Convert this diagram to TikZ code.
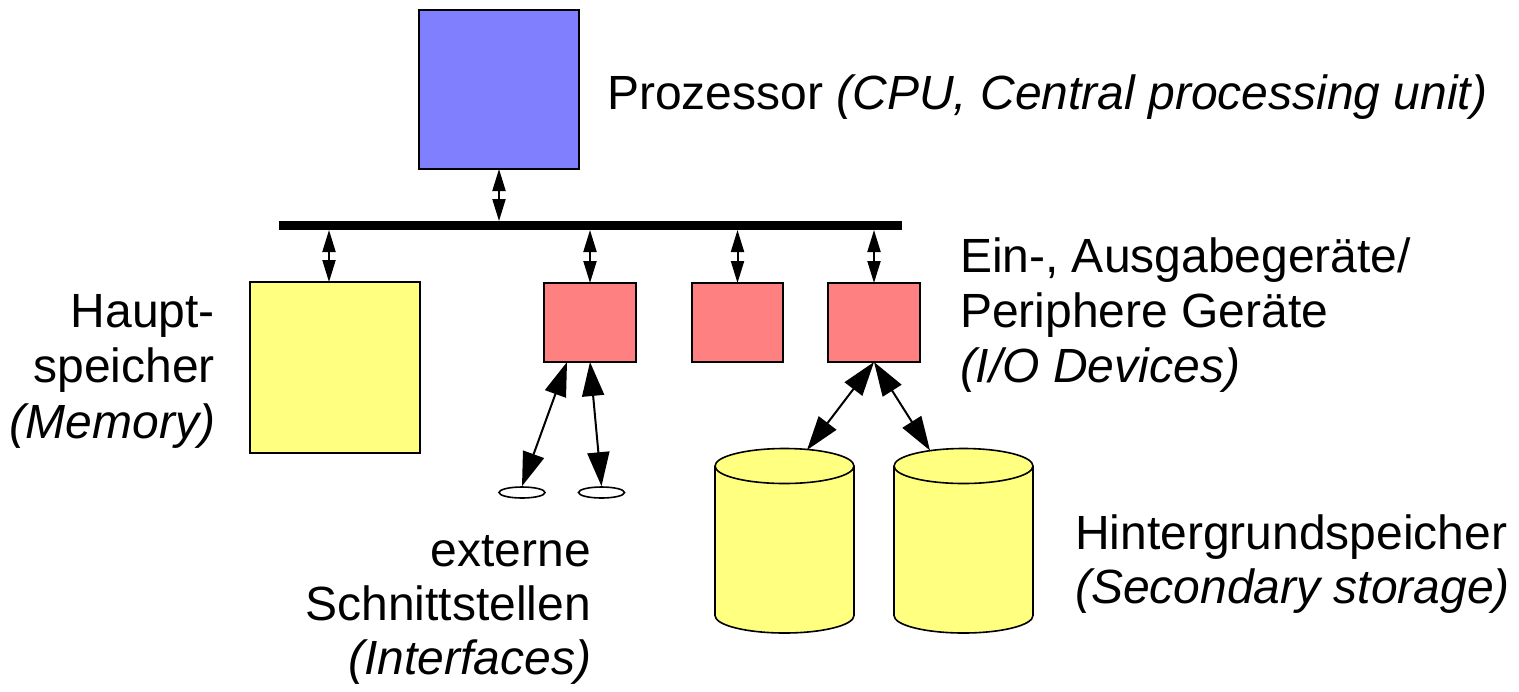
\documentclass[tikz,border=0pt]{standalone}
\usepackage{fontspec}
\setmainfont{Liberation Sans}
\usetikzlibrary{arrows.meta,shapes.geometric,calc}
\definecolor{cpublue}{HTML}{8080FF}
\definecolor{memyellow}{HTML}{FFFF80}
\definecolor{iored}{HTML}{FF8080}
\tikzset{
  box/.style={draw=black, line width=0.8pt, inner sep=0pt, outer sep=0pt, anchor=north west},
  lbl/.style={font=\fontsize{24}{27.5}\selectfont, inner sep=0pt, outer sep=0pt},
  vbi/.style={line width=1pt, {Triangle[length=11pt,width=6.5pt]}-{Triangle[length=11pt,width=6.5pt]}},
  dbi/.style={line width=1pt, {Triangle[length=17pt,width=11pt]}-{Triangle[length=17pt,width=11pt]}},
  port/.style={ellipse, draw=black, line width=0.8pt, fill=white, inner sep=0pt, minimum width=23pt, minimum height=5.5pt},
  disk/.pic={
    \fill[memyellow] (-69.5,0) -- (-69.5,149.5)
      arc[start angle=180,end angle=360,x radius=34.75pt,y radius=8.75pt]
      -- (69.5,0)
      arc[start angle=0,end angle=180,x radius=34.75pt,y radius=8.75pt] -- cycle;
    \draw[line width=0.8pt] (-69.5,0) -- (-69.5,149.5)
      arc[start angle=180,end angle=360,x radius=34.75pt,y radius=8.75pt]
      -- (69.5,0);
    \draw[line width=0.8pt] (0,0) ellipse [x radius=34.75pt, y radius=8.75pt];
  }
}
\begin{document}
\begin{tikzpicture}[x=0.5pt,y=-0.5pt]
\useasboundingbox (0,0) rectangle (1519,691);

% processor
\node[box, fill=cpublue, minimum width=80pt, minimum height=79.5pt] (cpu) at (419,10) {};
% bus
\node[box, draw=none, fill=black, minimum width=311.5pt, minimum height=4.5pt] (bus) at (279,221) {};
% memory
\node[box, fill=memyellow, minimum width=85pt, minimum height=85.5pt] (mem) at (250,282) {};
% I/O devices
\node[box, fill=iored, minimum width=46pt, minimum height=39.5pt] (io1) at (544,283) {};
\node[box, fill=iored, minimum width=45.5pt, minimum height=39.5pt] (io2) at (692,283) {};
\node[box, fill=iored, minimum width=46pt, minimum height=39.5pt] (io3) at (828,283) {};
% external interfaces
\node[port] (ext1) at (522,492.5) {};
\node[port] (ext2) at (601.5,492.5) {};
% secondary storage
\pic at (784.5,466) {disk};
\pic at (963.5,466) {disk};
\coordinate (disk1in) at (807,450);
\coordinate (disk2in) at (930,450.5);

% connectors
\coordinate (memin) at ($(mem.north)+(-6,0)$);
\draw[vbi] (cpu.south) -- (cpu.south |- bus.north);
\draw[vbi] (bus.south -| memin) -- (memin);
\draw[vbi] (bus.south -| io1.north) -- (io1.north);
\draw[vbi] (bus.south -| io2.north) -- (io2.north);
\draw[vbi] (bus.south -| io3.north) -- (io3.north);
\draw[dbi] ($(io1.south west)+(23,0)$) -- (ext1.north);
\draw[dbi] (io1.south) -- (ext2.north);
\draw[dbi] (io3.south) -- (disk1in);
\draw[dbi] (io3.south) -- (disk2in);

% labels
\node[lbl, anchor=base west] (cpulbl) at (607,109) {Prozessor \textit{(CPU, Central processing unit)}};
\node[lbl, anchor=base east] (meml1) at (215,327) {Haupt-};
\node[lbl, anchor=base east] (meml2) at (215,382.5) {speicher};
\node[lbl, anchor=base east] (meml3) at (215,438) {\textit{(Memory)}};
\node[lbl, anchor=base west] (iol1) at (960,272) {Ein-, Ausgabegeräte/};
\node[lbl, anchor=base west] (iol2) at (960,327) {Periphere Geräte};
\node[lbl, anchor=base west] (iol3) at (960,382) {\textit{(I/O Devices)}};
\node[lbl, anchor=base east] (extl1) at (591,566) {externe};
\node[lbl, anchor=base east] (extl2) at (591,620) {Schnittstellen};
\node[lbl, anchor=base east] (extl3) at (591,674) {\textit{(Interfaces)}};
\node[lbl, anchor=base west] (diskl1) at (1075,549) {Hintergrundspeicher};
\node[lbl, anchor=base west] (diskl2) at (1075,603) {\textit{(Secondary storage)}};
\end{tikzpicture}
\end{document}
